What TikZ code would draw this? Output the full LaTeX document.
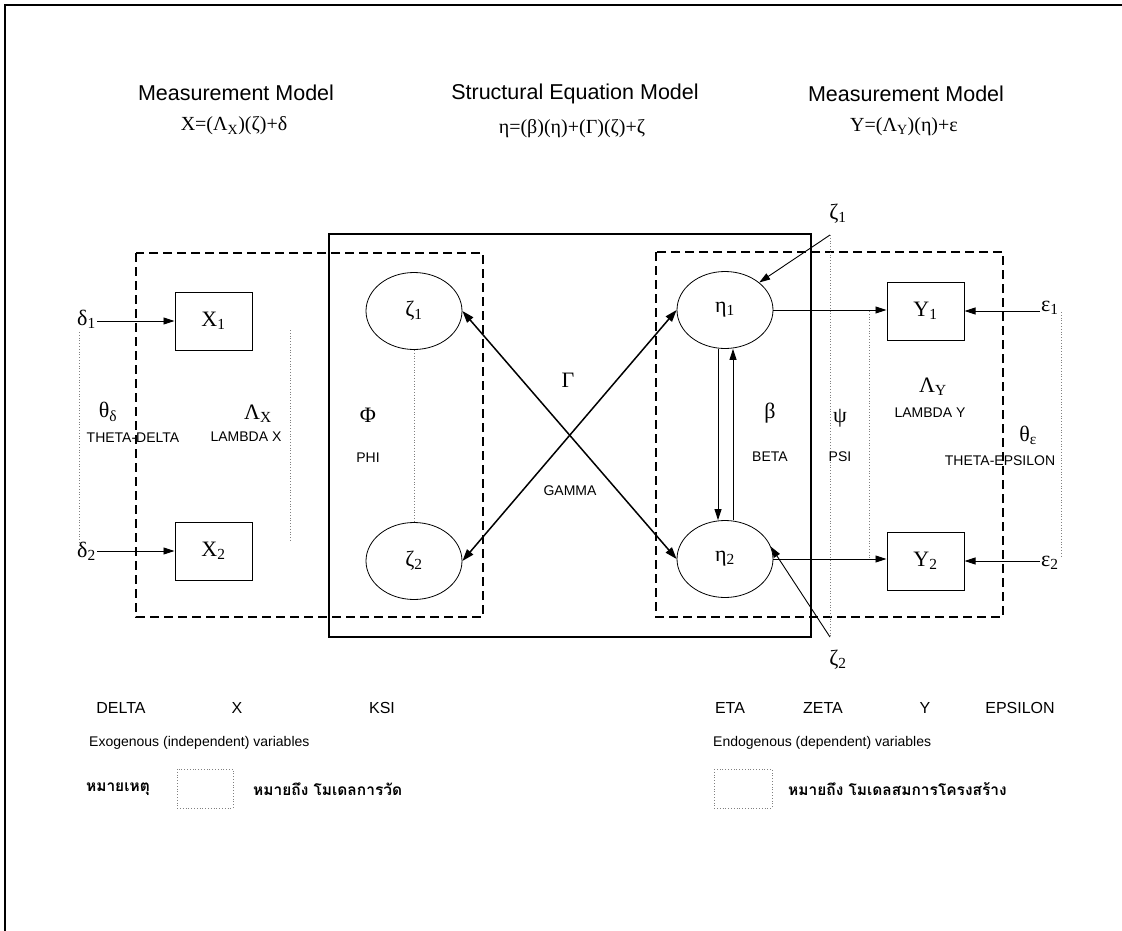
\documentclass[tikz,border=0pt]{standalone}
\usepackage{fontspec}
\setmainfont{Liberation Serif}
\newfontfamily\arialf{Liberation Sans}
\newfontfamily\thaif[Script=Thai]{Loma}
\usetikzlibrary{arrows.meta,shapes.geometric}
\tikzset{
  head/.style={font=\arialf\fontsize{21.5}{25}\selectfont, inner sep=0pt},
  eqn/.style={font=\fontsize{20}{23}\selectfont, inner sep=0pt},
  greek/.style={font=\fontsize{22}{25}\selectfont, inner sep=0pt},
  smalllab/.style={font=\arialf\fontsize{14}{17}\selectfont, inner sep=0pt},
  botlab/.style={font=\arialf\fontsize{16}{19}\selectfont, inner sep=0pt},
  thailab/.style={font=\thaif\bfseries\fontsize{15.5}{18}\selectfont, inner sep=0pt},
  varbox/.style={draw, line width=1pt, minimum width=77pt, minimum height=58pt, inner sep=0pt, font=\fontsize{22}{24}\selectfont},
  latent/.style={draw, ellipse, line width=0.8pt, minimum width=96pt, minimum height=77pt, inner sep=0pt, font=\fontsize{22}{24}\selectfont},
  errlab/.style={font=\fontsize{22}{25}\selectfont, inner sep=1pt},
  arr/.style={-{Triangle[length=11pt,width=7pt]}, line width=0.9pt},
  darr/.style={{Triangle[length=12pt,width=8pt]}-{Triangle[length=12pt,width=8pt]}, line width=1.5pt},
  dotl/.style={gray, dotted, line width=0.8pt},
  dbox/.style={draw, line width=1.4pt, dash pattern=on 9pt off 5pt},
  sbox/.style={draw, line width=1.5pt},
  legbox/.style={draw, gray, dotted, line width=0.8pt}
}
\begin{document}
\begin{tikzpicture}[x=1pt,y=-1pt]
\useasboundingbox (0,0) rectangle (1122,931);
% outer frame (left and top)
\draw[line width=1.8pt] (5,931) -- (5,5) -- (1122,5);

% headings
\node[head] (h1) at (236,93) {Measurement Model};
\node[eqn] (e1) at (234,126) {X=(Λ\textsubscript{X})(ζ)+δ};
\node[head] (h2) at (575,94) {Structural Equation Model};
\node[eqn] (e2) at (572,129) {η=(β)(η)+(Γ)(ζ)+ζ};
\node[head] (h3) at (906,94) {Measurement Model};
\node[eqn] (e3) at (904,127) {Y=(Λ\textsubscript{Y})(η)+ε};

% boxes
\draw[sbox] (329,234) rectangle (811,637);
\draw[dbox] (136,253) rectangle (483,617);
\draw[dbox] (656,252) rectangle (1003,617);

% observed variables
\node[varbox] (X1) at (213.5,321) {X\textsubscript{1}};
\node[varbox] (X2) at (213.5,551) {X\textsubscript{2}};
\node[varbox] (Y1) at (925.5,311) {Y\textsubscript{1}};
\node[varbox] (Y2) at (925.5,561) {Y\textsubscript{2}};

% latent variables
\node[latent] (z1) at (414,311) {ζ\textsubscript{1}};
\node[latent] (z2) at (414,561) {ζ\textsubscript{2}};
\node[latent] (n1) at (725,310) {η\textsubscript{1}};
\node[latent] (n2) at (725,559) {η\textsubscript{2}};

% error terms
\node[errlab, anchor=east] (d1) at (97,319) {δ\textsubscript{1}};
\node[errlab, anchor=east] (d2) at (97,551) {δ\textsubscript{2}};
\node[errlab, anchor=west] (ep1) at (1040,308) {ε\textsubscript{1}};
\node[errlab, anchor=west] (ep2) at (1040,563) {ε\textsubscript{2}};
\node[errlab] (zt) at (838,214) {ζ\textsubscript{1}};
\node[errlab] (zb) at (838,660) {ζ\textsubscript{2}};
\coordinate (ztc) at (830,235);
\coordinate (zbc) at (830,637);

% connectors
\draw[arr] (d1.east |- X1.west) -- (X1.west);
\draw[arr] (d2.east |- X2.west) -- (X2.west);
\draw[arr] (ep1.west |- Y1.east) -- (Y1.east);
\draw[arr] (ep2.west |- Y2.east) -- (Y2.east);
\draw[arr] (n1.east) -- (n1.east -| Y1.west);
\draw[arr] (n2.east) -- (n2.east -| Y2.west);
\draw[arr] ([xshift=-7pt]n1.south) -- ([xshift=-7pt]n2.north);
\draw[arr] ([xshift=8pt]n2.north) -- ([xshift=8pt]n1.south);
\draw[arr] (ztc) -- (n1.north east);
\draw[arr] (zbc) -- (n2.15);
\draw[darr] (z1.east) -- (n2.west);
\draw[darr] (z2.east) -- (n1.west);

% correlation (dotted) lines
\draw[dotl] (79,332) -- (79,547);
\draw[dotl] (290,330) -- (290,542);
\draw[dotl] (z1.south) -- (z2.north);
\draw[dotl] (ztc) -- (zbc);
\draw[dotl] (869,311) -- (869,560);
\draw[dotl] (1061,312) -- (1061,558);

% parameter labels
\node[greek] (thd) at (108,412) {θ\textsubscript{δ}};
\node[smalllab] (thdl) at (133,438) {THETA-DELTA};
\node[greek] (lx) at (258,414) {Λ\textsubscript{X}};
\node[smalllab] (lxl) at (246,437) {LAMBDA X};
\node[greek] (phi) at (368,415) {Φ};
\node[smalllab] (phil) at (368,458) {PHI};
\node[greek] (gam) at (568,380) {Γ};
\node[smalllab] (gaml) at (570,491) {GAMMA};
\node[greek] (bet) at (770,413) {β};
\node[smalllab] (betl) at (770,457) {BETA};
\node[greek] (psi) at (840,418) {ψ};
\node[smalllab] (psil) at (840,457) {PSI};
\node[greek] (ly) at (933,387) {Λ\textsubscript{Y}};
\node[smalllab] (lyl) at (930,413) {LAMBDA Y};
\node[greek] (the) at (1028,435) {θ\textsubscript{ε}};
\node[smalllab] (thel) at (1000,461) {THETA-EPSILON};

% bottom legend
\node[botlab] (bdelta) at (121,708) {DELTA};
\node[botlab] (bx) at (237,708) {X};
\node[botlab] (bksi) at (382,708) {KSI};
\node[botlab] (beta) at (730,708) {ETA};
\node[botlab] (bzeta) at (823,708) {ZETA};
\node[botlab] (by) at (925,708) {Y};
\node[botlab] (beps) at (1020,708) {EPSILON};
\node[smalllab, anchor=west] (exo) at (89,743) {Exogenous (independent) variables};
\node[smalllab, anchor=west] (endo) at (713,743) {Endogenous (dependent) variables};
\node[thailab] (note) at (118,789) {หมายเหตุ};
\draw[legbox] (177,769) rectangle (233,808);
\node[thailab, anchor=west] (m1) at (253,789) {หมายถึง โมเดลการวัด};
\draw[legbox] (714,769) rectangle (772,808);
\node[thailab, anchor=west] (m2) at (788,789) {หมายถึง โมเดลสมการโครงสร้าง};
\end{tikzpicture}
\end{document}
